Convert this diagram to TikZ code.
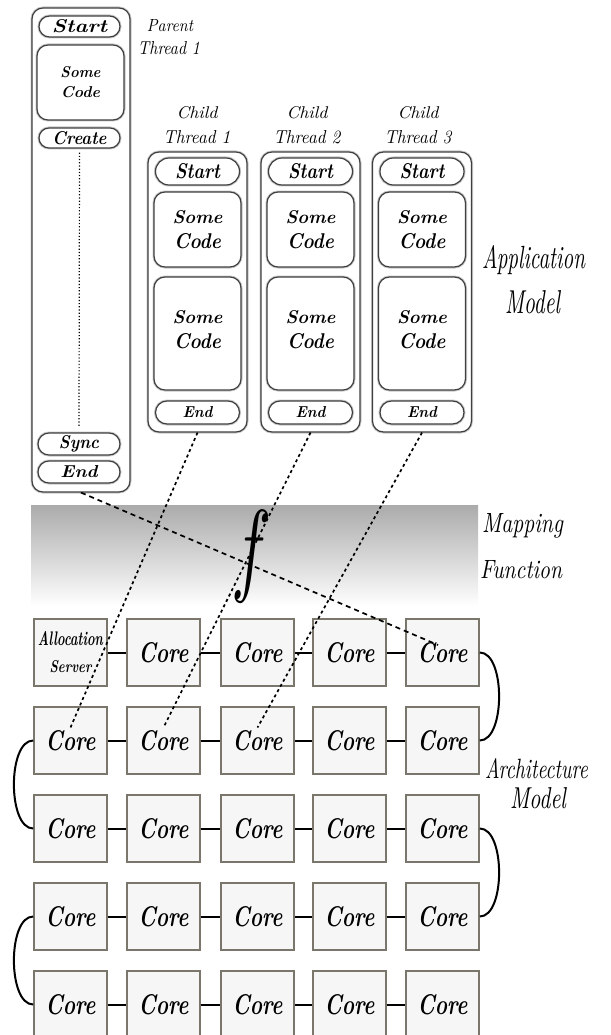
\documentclass[tikz,border=0pt]{standalone}
\usepackage{graphicx}
\usetikzlibrary{shapes.misc}
\definecolor{coreborder}{HTML}{7A766C}
\definecolor{corefill}{HTML}{F6F6F6}
\newcommand\fw[3]{\resizebox{#1pt}{#2pt}{\itshape #3}}
\newcommand\fb[3]{\resizebox{#1pt}{#2pt}{\bfseries\itshape #3}}
\tikzset{
  thr/.style={draw=black!75, line width=1.2pt, preaction={draw=black!22, line width=3pt}},
  outerbox/.style={thr, rectangle, rounded corners=11pt, fill=white, inner sep=0pt},
  oval/.style={thr, rounded rectangle, fill=white, inner sep=0pt},
  codebox/.style={thr, rectangle, rounded corners=11pt, fill=white, inner sep=0pt, align=center, font=\fontsize{20}{25}\selectfont},
  core/.style={rectangle, draw=coreborder, fill=corefill, line width=1.6pt, minimum width=73pt, minimum height=67pt, inner sep=0pt, align=center, font=\fontsize{20}{27}\selectfont},
  link/.style={line width=2pt, black},
  cmap/.style={line width=1.7pt, dash pattern=on 3pt off 3pt},
  pmap/.style={line width=1.7pt, dash pattern=on 5pt off 4pt},
  lab/.style={inner sep=0pt, anchor=base},
}
\begin{document}
\begin{tikzpicture}[x=1pt,y=-1pt]
\useasboundingbox (0,0) rectangle (610,1035);
% mapping band
\shade[top color=black!33, bottom color=white] (31,505) rectangle (478,606);

% parent thread
\node[outerbox, minimum width=98pt, minimum height=484pt] (pbox) at (81,250) {};
\node[oval, minimum width=81pt, minimum height=21pt] (pstart) at (79.5,26.5) {\fb{55}{13}{Start}};
\node[codebox, minimum width=87pt, minimum height=75pt, font=\fontsize{14}{20}\selectfont] (pcode) at (80.5,82.5) {\fb{40}{11}{Some}\\\fb{39}{11}{Code}};
\node[oval, minimum width=81pt, minimum height=20pt] (pcreate) at (79.5,138) {\fb{54}{13}{Create}};
\node[oval, minimum width=82pt, minimum height=22pt] (psync) at (79,444) {\fb{40}{13}{Sync}};
\node[oval, minimum width=82pt, minimum height=22pt] (pend) at (79,472) {\fb{37}{12}{End}};
\draw[line width=1.2pt, dotted, shorten >=6pt, shorten <=4pt] (pcreate.south) -- (psync.north);
\node[lab] (lparent) at (170,32) {\fw{46}{12}{Parent}};
\node[lab] (lpthread) at (169,55) {\fw{62}{13}{Thread 1}};

% child threads
\foreach \i/\cx/\lx in {1/197.5/197, 2/310.5/307, 3/422/418} {
  \node[outerbox, minimum width=99pt, minimum height=280pt] (ch\i) at (\cx,292) {};
  \node[oval, minimum width=84pt, minimum height=27pt] (cs\i) at (\cx,171.5) {\fb{45}{15}{Start}};
  \node[codebox, minimum width=87pt, minimum height=75pt] (ca\i) at (\cx,229.5) {\fb{50}{13}{Some}\\\fb{47}{15}{Code}};
  \node[codebox, minimum width=87pt, minimum height=113pt, text depth=9pt] (cb\i) at (\cx,333.5) {\fb{50}{13}{Some}\\\fb{47}{15}{Code}};
  \node[oval, minimum width=84pt, minimum height=23pt] (ce\i) at (\cx,412.5) {\fb{30}{11}{End}};
  \node[lab] (lc\i) at (\lx,119) {\fw{41}{12}{Child}};
  \node[lab] (lt\i) at (\lx,144) {\fw{67}{13}{Thread \i}};
}

% side labels
\node[lab] (lapp) at (533.5,268) {\fw{103}{23}{Application}};
\node[lab] (lappm) at (532.5,313) {\fw{55}{23}{Model}};
\node[lab] (lmap) at (522.5,532) {\fw{81}{19}{Mapping}};
\node[lab] (lfun) at (521,578) {\fw{82}{18}{Function}};
\node[lab] (larc) at (536.5,778) {\fw{103}{20}{Architecture}};
\node[lab] (larcm) at (538,808) {\fw{56}{21}{Model}};

% mapping function symbol
\node[inner sep=0pt] (fsym) at (252,556.5) {\resizebox*{40pt}{92pt}{$f$}};

% architecture grid
\foreach \r/\y in {1/652.5,2/740.5,3/828.5,4/916.5,5/1004.5} {
  \foreach \c/\x in {1/70.5,2/163.5,3/257.5,4/349.5,5/442.5} {
    \ifnum\r\c=11
      \node[core] (c\r\c) at (\x,\y) {\fb{65}{14}{Allocation}\\\fb{42}{12}{Server}};
    \else
      \node[core] (c\r\c) at (\x,\y) {\fb{50}{20}{Core}};
    \fi
  }
}
\foreach \r in {1,...,5} {
  \foreach \c [evaluate=\c as \n using int(\c+1)] in {1,...,4} {
    \draw[link] (c\r\c.east) -- (c\r\n.west);
  }
}
\draw[link] (c15.east) to[out=0,in=0,looseness=0.75] (c25.east);
\draw[link] (c35.east) to[out=0,in=0,looseness=0.75] (c45.east);
\draw[link] (c21.west) to[out=180,in=180,looseness=0.75] (c31.west);
\draw[link] (c41.west) to[out=180,in=180,looseness=0.75] (c51.west);

% mappings
\coordinate (t15) at ([xshift=-4.5pt,yshift=7.5pt]c15.center);
\draw[pmap] (pbox.south) -- (t15);
\foreach \i in {1,2,3} {
  \draw[cmap] (ch\i.south) -- ([yshift=13pt]c2\i.center);
}
\end{tikzpicture}
\end{document}
